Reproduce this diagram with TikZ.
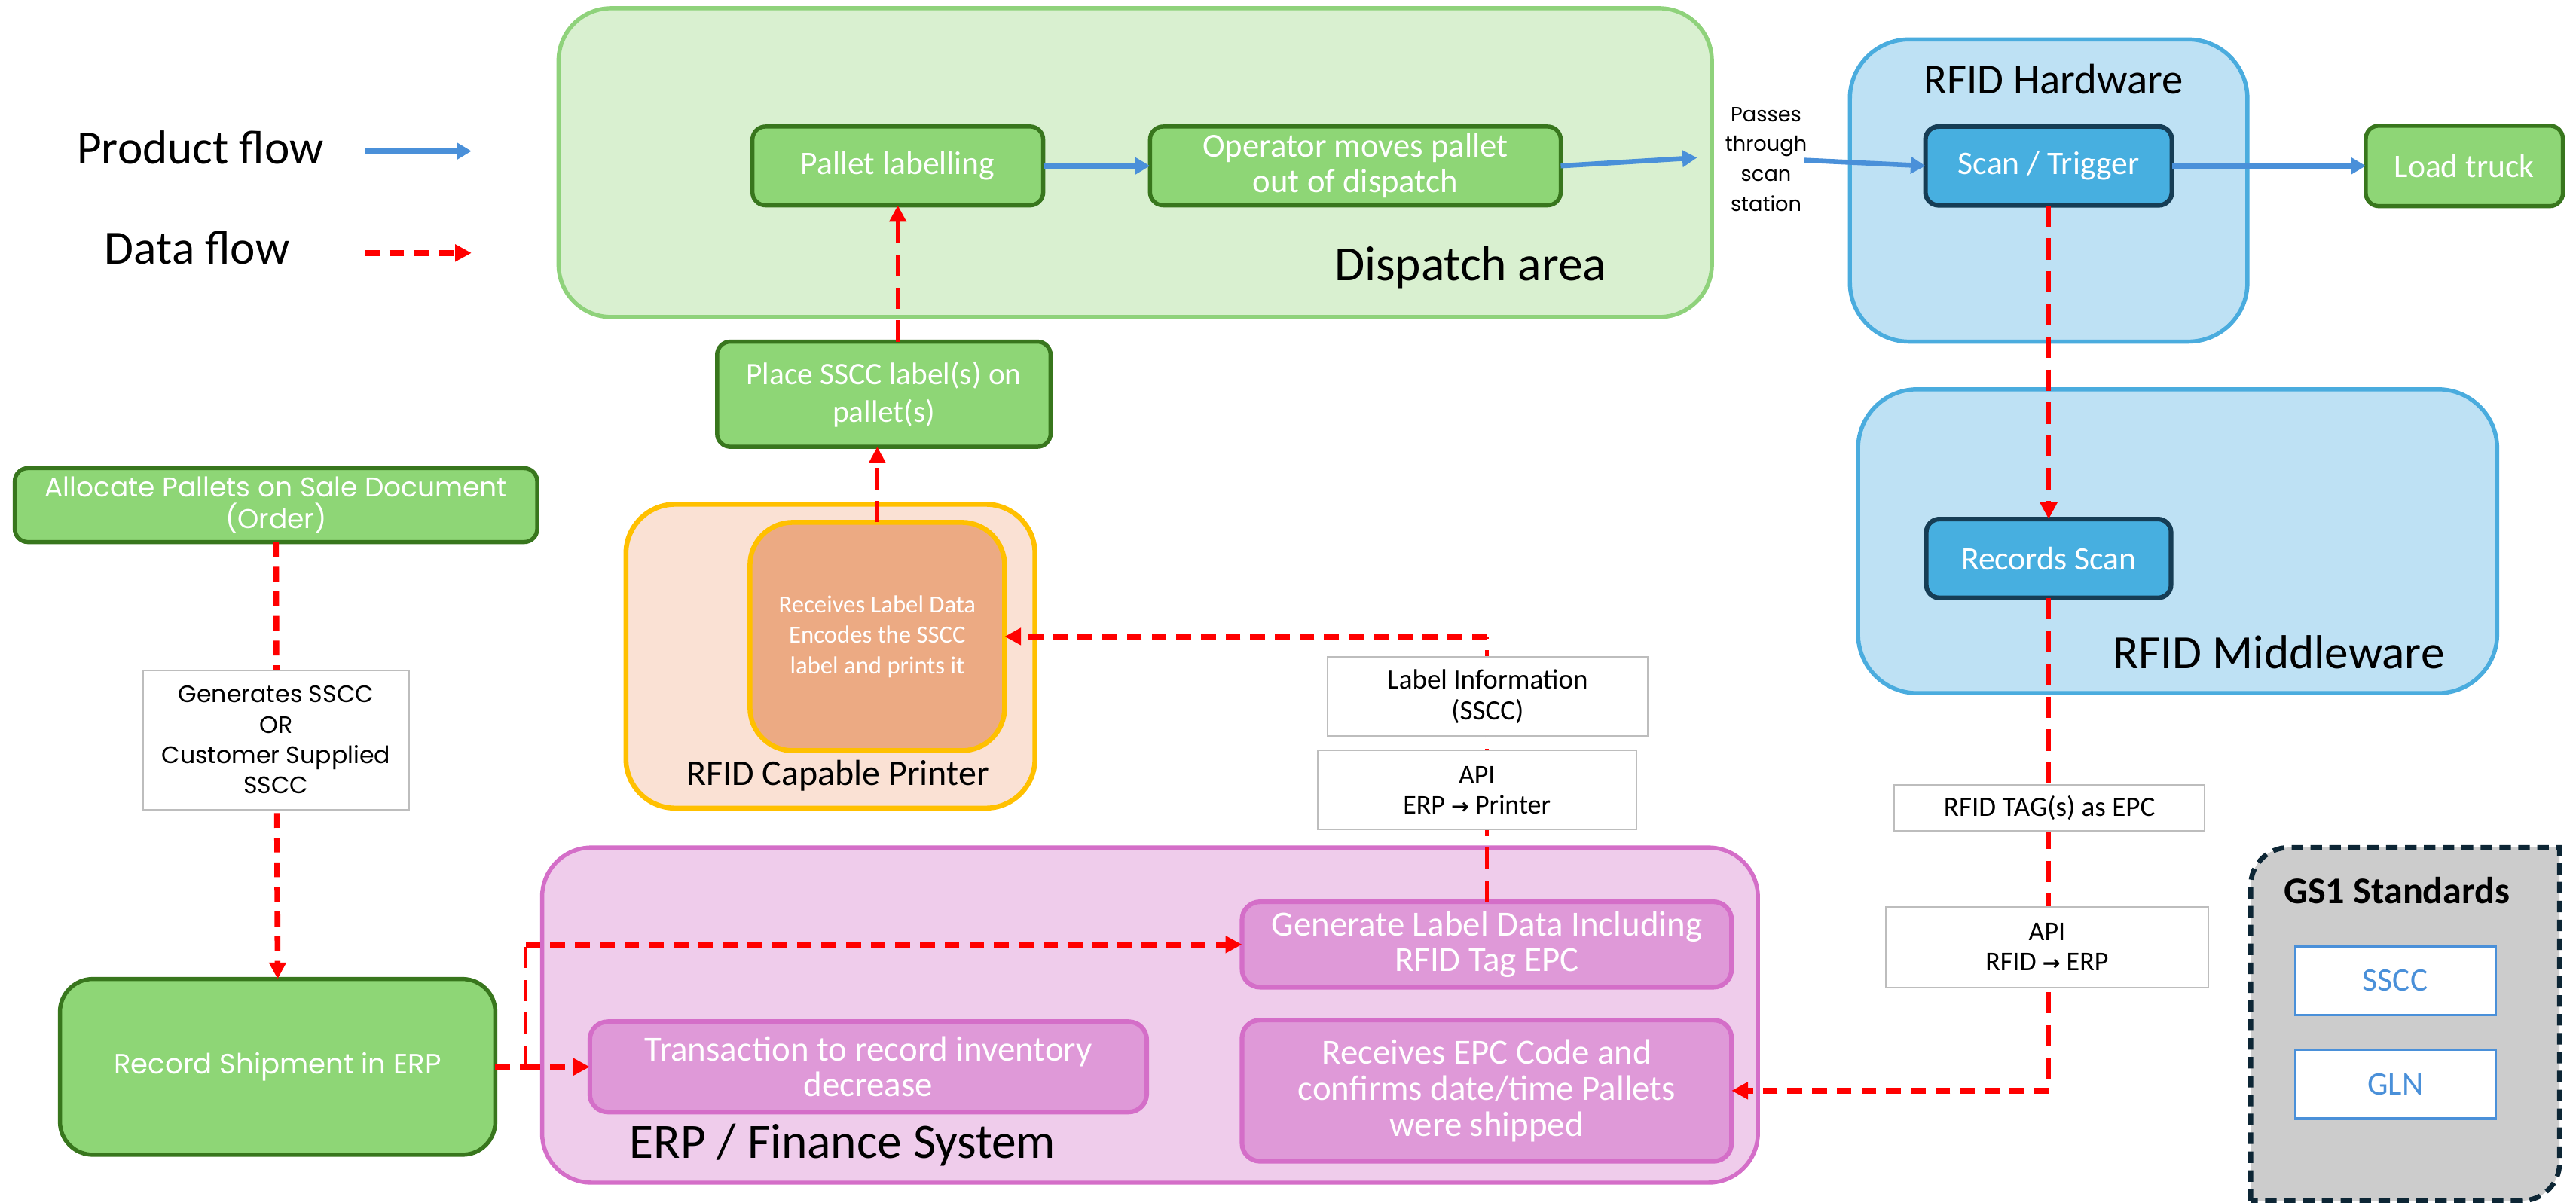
\documentclass[tikz,border=0pt]{standalone}
\usepackage{fontspec}
\setmainfont{Carlito}
\newfontfamily\widefont{Poppins}
\newfontfamily\dvfont{DejaVu Sans}
\usetikzlibrary{arrows.meta}
\definecolor{gfill}{HTML}{8ED676}
\definecolor{gdark}{HTML}{38761D}
\definecolor{dispfill}{HTML}{D9F0D0}
\definecolor{displine}{HTML}{8FD27B}
\definecolor{bluefill}{HTML}{BEE1F4}
\definecolor{blueline}{HTML}{4AACDE}
\definecolor{scanfill}{HTML}{47AFE0}
\definecolor{scanline}{HTML}{163D55}
\definecolor{prfill}{HTML}{FAE1D4}
\definecolor{prline}{HTML}{FFC000}
\definecolor{prinner}{HTML}{ECAA83}
\definecolor{erpfill}{HTML}{EFCCEB}
\definecolor{erpline}{HTML}{D46EC8}
\definecolor{erpinner}{HTML}{DF99D8}
\definecolor{gsfill}{HTML}{CCCCCC}
\definecolor{gsline}{HTML}{0D2635}
\definecolor{lblline}{HTML}{BDBDBD}
\definecolor{prodblue}{HTML}{4A90D9}
\definecolor{datared}{HTML}{FF0000}
\begin{document}
\begin{tikzpicture}[x=1pt,y=-1pt,
  sz/.style 2 args={minimum width=#1pt, minimum height=#2pt},
  box/.style={rectangle, rounded corners=8pt, align=center, text=white, inner sep=1pt, outer sep=0pt},
  gbox/.style={box, fill=gfill, draw=gdark, line width=2.5pt},
  bbox/.style={box, fill=scanfill, draw=scanline, line width=2.8pt},
  pbox/.style={box, rounded corners=11pt, fill=erpinner, draw=erpline, line width=2.8pt},
  obox/.style={box, rounded corners=26pt, fill=prinner, draw=prline, line width=3pt},
  wbox/.style={rectangle, align=center, fill=white, draw=lblline, line width=0.9pt, text=black, inner sep=1pt, outer sep=0pt},
  sbox/.style={rectangle, align=center, fill=white, draw=prodblue, line width=1.5pt, text=prodblue, inner sep=1pt, outer sep=0pt, font=\fontsize{20}{20}\selectfont},
  cont/.style={rectangle, rounded corners=32pt, line width=2.5pt, outer sep=0pt},
  ttl/.style={text=black, inner sep=0pt},
  prod/.style={draw=prodblue, line width=3pt, -{Triangle[length=9pt,width=10pt]}},
  dataH/.style={draw=datared, line width=3.5pt, dash pattern=on 9pt off 6pt},
  dataV/.style={draw=datared, line width=2.4pt, dash pattern=on 13pt off 7pt},
  rtip/.style={-{Triangle[length=10pt,width=10pt]}}
]
\useasboundingbox (0,0) rectangle (1568,732);
\fill[white] (0,0) rectangle (1568,732);

% ---------- containers ----------
\node[cont, fill=dispfill, draw=displine, sz={702}{188}] (disp) at (691,99) {};
\node[cont, rounded corners=36pt, fill=bluefill, draw=blueline, sz={242}{184}] (hw) at (1247,116) {};
\node[cont, rounded corners=36pt, fill=bluefill, draw=blueline, sz={389}{185}] (mw) at (1325.5,329.5) {};
\node[cont, rounded corners=30pt, fill=prfill, draw=prline, line width=3pt, sz={249}{185}] (pr) at (505.5,399.5) {};
\node[cont, rounded corners=30pt, fill=erpfill, draw=erpline, sz={740}{204}] (erp) at (700,618) {};
\path[fill=gsfill, draw=gsline, line width=3pt, dash pattern=on 7pt off 4.5pt]
  (1370,731) -- (1370,539) .. controls (1370,526.3) and (1380.3,516) .. (1393,516)
  -- (1558,516) -- (1558,708) .. controls (1558,720.7) and (1547.7,731) .. (1535,731) -- cycle;

% ---------- container titles ----------
\node[ttl, font=\fontsize{30}{30}\selectfont] (displbl) at (895,163) {Dispatch area};
\node[ttl, font=\fontsize{26}{26}\selectfont] (hwlbl) at (1250,48) {RFID Hardware};
\node[ttl, font=\fontsize{29}{29}\selectfont] (mwlbl) at (1387,397) {RFID Middleware};
\node[ttl, font=\fontsize{22}{22}\selectfont] (prlbl) at (510,472) {RFID Capable Printer};
\node[ttl, font=\fontsize{30}{30}\selectfont] (erplbl) at (513,697) {ERP / Finance System};
\node[ttl, font=\fontsize{23}{23}\selectfont\bfseries] (gslbl) at (1459,542) {GS1 Standards};

% ---------- legend ----------
\node[ttl, font=\fontsize{29}{29}\selectfont] (lprod) at (122,90) {Product flow};
\node[ttl, font=\fontsize{29}{29}\selectfont] (ldata) at (120,151) {Data flow};
\coordinate (lpa) at (222,92);
\coordinate (lpb) at (287,92);
\coordinate (lda) at (222,154);
\coordinate (ldb) at (287,154);
\draw[prod] (lpa) -- (lpb);
\draw[dataH, rtip] (lda) -- (ldb);

% ---------- process nodes ----------
\node[gbox, sz={177}{48}, font=\fontsize{20}{21}\selectfont] (pal) at (546.5,101) {Pallet labelling};
\node[gbox, sz={250}{48}, font=\fontsize{20.5}{21.5}\selectfont] (oper) at (825,101) {Operator moves pallet\\out of dispatch};
\node[gbox, sz={120}{49}, font=\fontsize{20}{21}\selectfont] (load) at (1500,101) {Load truck};
\node[gbox, sz={203}{64}, font=\fontsize{19}{23}\selectfont] (place) at (538,240) {Place SSCC label(s) on\\pallet(s)};
\node[gbox, sz={318}{45}, font=\widefont\fontsize{16.5}{19}\selectfont] (alloc) at (168,307.5) {Allocate Pallets on Sale Document\\(Order)};
\node[gbox, rounded corners=20pt, sz={265}{107}, font=\widefont\fontsize{17}{18}\selectfont] (record) at (169,649.5) {Record Shipment in ERP};

\node[bbox, sz={150}{48}, font=\fontsize{20}{21}\selectfont] (scan) at (1247,101) {Scan / Trigger};
\node[bbox, sz={149}{48}, font=\fontsize{20}{21}\selectfont] (rec) at (1247,340) {Records Scan};

\node[obox, sz={155}{139}, font=\fontsize{15}{18.5}\selectfont] (inner) at (534,387.5) {Receives Label Data\\Encodes the SSCC\\label and prints it};

\node[pbox, sz={298}{52}, font=\fontsize{21.5}{21.5}\selectfont] (genlabel) at (905,575) {Generate Label Data Including\\RFID Tag EPC};
\node[pbox, sz={339}{55}, font=\fontsize{21.5}{21.5}\selectfont] (trans) at (528.5,649.5) {Transaction to record inventory\\decrease};
\node[pbox, sz={298}{86}, font=\fontsize{21.5}{22}\selectfont] (recepc) at (905,664) {Receives EPC Code and\\confirms date/time Pallets\\were shipped};

\node[sbox, sz={122}{42}] (sscc) at (1458,597) {SSCC};
\node[sbox, sz={122}{42}] (gln) at (1458,660) {GLN};

% ---------- product flow ----------
\coordinate (pass1) at (1033,96);
\coordinate (pass2) at (1098,97.5);
\draw[prod] (pal.east) -- (oper.west);
\draw[prod] (oper.east) -- (pass1);
\draw[prod] (pass2) -- (scan.west);
\draw[prod] (scan.east) -- (load.west);
\node[ttl, align=center, font=\widefont\fontsize{12.5}{18.3}\selectfont] (passes) at (1075,97) {Passes\\through\\scan\\station};

% ---------- data flow ----------
\draw[dataV, rtip] (place.north -| pal.south) -- (pal.south);
\draw[dataV, rtip] (inner.north) -- (inner.north |- place.south);
\draw[dataV, rtip] (scan.south) -- (rec.north);

\coordinate (c2) at (rec.south |- recepc.east);
\draw[dataV] (rec.south) -- (c2);
\draw[dataH, rtip] (c2) -- (recepc.east);

\coordinate (c1) at (genlabel.north |- inner.east);
\draw[dataV] (genlabel.north) -- (c1);
\draw[dataH, rtip] (c1) -- (inner.east);

\draw[dataH, rtip] (alloc.south) -- (record.north);

\coordinate (c3) at (320,649.5);
\coordinate (c4) at (c3 |- genlabel.west);
\draw[dataH] (record.east) -- (c3);
\draw[dataV] (c3) -- (c4);
\draw[dataH, rtip] (c4) -- (genlabel.west);
\draw[dataH, rtip] (c3) -- (trans.west);

% ---------- label boxes on the connectors ----------
\node[wbox, sz={162}{85}, font=\widefont\fontsize{14.5}{18.5}\selectfont] (gensscc) at (168,450.5) {Generates SSCC\\OR\\Customer Supplied\\SSCC};
\node[wbox, sz={195}{48}, font=\fontsize{17}{18.5}\selectfont] (labelinfo) at (905.5,424) {Label Information\\(SSCC)};
\node[wbox, sz={194}{48}, font=\fontsize{16.5}{18.5}\selectfont] (api1) at (899,481) {API\\ERP {\dvfont\bfseries\fontsize{13}{13}\selectfont →} Printer};
\node[wbox, sz={189}{28}, font=\fontsize{17}{18}\selectfont] (tag) at (1247.5,492) {RFID TAG(s) as EPC};
\node[wbox, sz={196}{49}, font=\fontsize{16.5}{18.5}\selectfont] (api2) at (1246,576.5) {API\\RFID {\dvfont\bfseries\fontsize{13}{13}\selectfont →} ERP};
\end{tikzpicture}
\end{document}
